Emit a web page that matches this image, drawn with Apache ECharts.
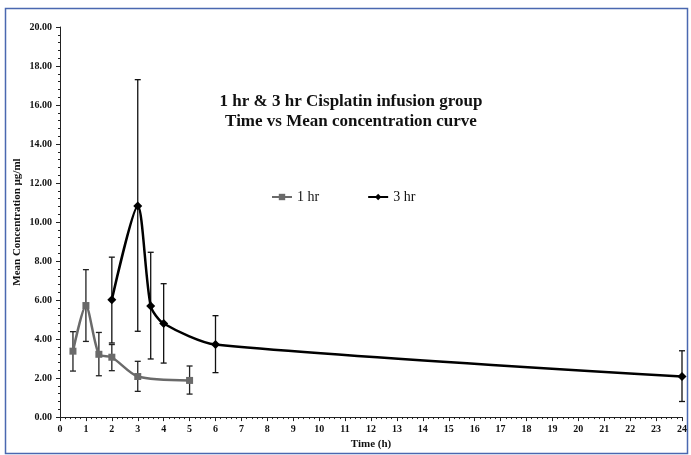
<!DOCTYPE html>
<html>
<head>
<meta charset="utf-8">
<script src="https://cdn.jsdelivr.net/npm/echarts@6/dist/echarts.min.js"></script>
<style>
html,body{margin:0;padding:0;background:#fff;}
#c{width:691px;height:455px;}
</style>
</head>
<body>
<div id="c"></div>
<script>
// Data
const time1 = [0.5, 1, 1.5, 2, 3, 5];
const mean1 = [3.38, 5.72, 3.22, 3.07, 2.08, 1.88];
const low1  = [2.36, 3.88, 2.12, 2.38, 1.32, 1.18];
const high1 = [4.38, 7.56, 4.34, 3.72, 2.86, 2.62];

const time3 = [2, 3, 3.5, 4, 6, 24];
const mean3 = [6.02, 10.82, 5.70, 4.80, 3.72, 2.08];
const low3  = [3.80, 4.40, 2.98, 2.77, 2.28, 0.80];
const high3 = [8.20, 17.30, 8.45, 6.84, 5.20, 3.40];

const xTicks = {min: 0, max: 24, interval: 1};
const yTicks = {min: 0, max: 20, interval: 2};

const serif = '"Liberation Serif", "DejaVu Serif", serif';
const gray = '#6a6a6a';

function pts(xs, ys) { return xs.map((x, i) => [x, ys[i]]); }
function errData(xs, lo, hi) { return xs.map((x, i) => [x, lo[i], hi[i]]); }

function errRender(color) {
  return function (params, api) {
    const x = api.value(0);
    const lo = api.coord([x, api.value(1)]);
    const hi = api.coord([x, api.value(2)]);
    const w = 3;
    const style = {stroke: color, lineWidth: 1.3};
    return {
      type: 'group',
      children: [
        {type: 'line', shape: {x1: lo[0], y1: lo[1], x2: hi[0], y2: hi[1]}, style: style},
        {type: 'line', shape: {x1: lo[0] - w, y1: lo[1], x2: lo[0] + w, y2: lo[1]}, style: style},
        {type: 'line', shape: {x1: hi[0] - w, y1: hi[1], x2: hi[0] + w, y2: hi[1]}, style: style}
      ]
    };
  };
}

const chart = echarts.init(document.getElementById('c'));
chart.setOption({
  animation: false,
  backgroundColor: '#fff',
  graphic: [
    {type: 'rect', shape: {x: 5.5, y: 8.5, width: 682, height: 445}, style: {fill: 'none', stroke: '#4a68b0', lineWidth: 1.5}, silent: true},
    {type: 'text', x: 351, y: 92, style: {
      text: '1 hr & 3 hr Cisplatin infusion group\nTime vs Mean concentration curve',
      font: 'bold 17px ' + serif, fill: '#111', align: 'center', lineHeight: 20
    }}
  ],
  grid: {left: 60, right: 9, top: 27, bottom: 36},
  legend: {
    left: 266, top: 185,
    itemWidth: 20, itemHeight: 8, itemGap: 48,
    textStyle: {fontFamily: serif, fontSize: 14, color: '#111'},
    data: ['1 hr', '3 hr']
  },
  xAxis: {
    type: 'value', min: xTicks.min, max: xTicks.max, interval: xTicks.interval,
    name: 'Time (h)', nameLocation: 'middle', nameGap: 21,
    nameTextStyle: {fontFamily: serif, fontWeight: 'bold', fontSize: 11, color: '#111'},
    axisLine: {lineStyle: {color: '#222', width: 1}},
    axisTick: {length: 4, lineStyle: {color: '#222'}},
    minorTick: {show: true, splitNumber: 5, length: 2, lineStyle: {color: '#222'}},
    splitLine: {show: false},
    axisLabel: {fontFamily: serif, fontWeight: 'bold', fontSize: 10, color: '#111', margin: 7}
  },
  yAxis: {
    type: 'value', min: yTicks.min, max: yTicks.max, interval: yTicks.interval,
    name: 'Mean Concentration µg/ml', nameLocation: 'middle', nameGap: 37,
    nameMoveOverlap: false,
    nameTextStyle: {fontFamily: serif, fontWeight: 'bold', fontSize: 11, color: '#111'},
    axisLine: {show: true, lineStyle: {color: '#222', width: 1}},
    axisTick: {show: true, length: 4, lineStyle: {color: '#222'}},
    minorTick: {show: true, splitNumber: 5, length: 2, lineStyle: {color: '#222'}},
    splitLine: {show: false},
    axisLabel: {fontFamily: serif, fontWeight: 'bold', fontSize: 10, color: '#111', margin: 8,
      formatter: v => v.toFixed(2)}
  },
  series: [
    {
      name: '1 hr', type: 'line', data: pts(time1, mean1), smooth: 0.25,
      symbol: 'rect', symbolSize: 7,
      lineStyle: {color: gray, width: 2.5}, itemStyle: {color: gray}, z: 3
    },
    {
      name: '3 hr', type: 'line', data: pts(time3, mean3), smooth: 0.25,
      symbol: 'diamond', symbolSize: 9,
      lineStyle: {color: '#000', width: 2.5}, itemStyle: {color: '#000'}, z: 3
    },
    {
      type: 'custom', data: errData(time1, low1, high1), renderItem: errRender('#222'),
      encode: {x: 0, y: [1, 2]}, z: 2, silent: true
    },
    {
      type: 'custom', data: errData(time3, low3, high3), renderItem: errRender('#111'),
      encode: {x: 0, y: [1, 2]}, z: 2, silent: true
    }
  ]
});
</script>
</body>
</html>
